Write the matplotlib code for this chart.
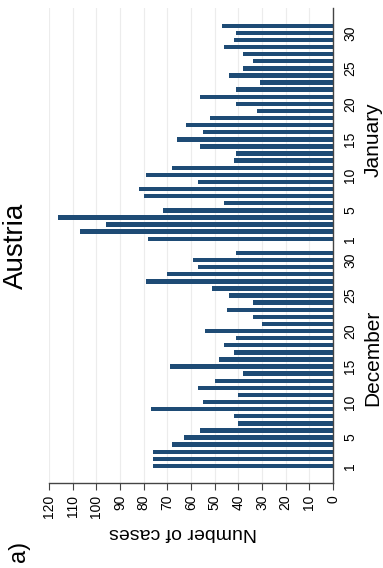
import numpy as np
import matplotlib
matplotlib.use("Agg")
import matplotlib.pyplot as plt

plt.rcParams['font.family'] = ['Liberation Sans', 'DejaVu Sans']

# daily case counts
dec_cases = [76, 76, 76, 68, 63, 56, 40, 42, 77, 55,
             40, 57, 50, 38, 69, 48, 42, 46, 41, 54,
             30, 34, 45, 34, 44, 51, 79, 70, 57, 59, 41]
jan_cases = [78, 107, 96, 116, 72, 46, 80, 82, 57, 79,
             68, 42, 41, 56, 66, 55, 62, 52, 32, 41,
             56, 41, 31, 44, 38, 34, 38, 46, 42, 41, 47]
day_ticks = [1, 5, 10, 15, 20, 25, 30]
case_ticks = list(range(0, 121, 10))

bar_color = '#1e4b75'

dec_pos = np.arange(len(dec_cases))
jan_pos = np.arange(len(jan_cases)) + len(dec_cases) + 1

fig = plt.figure(figsize=(3.83, 5.68), dpi=100)
ax = fig.add_axes([0.128, 0.1496, 0.7415, 0.8364])

ax.barh(dec_pos, dec_cases, height=0.62, color=bar_color)
ax.barh(jan_pos, jan_cases, height=0.62, color=bar_color)

ax.set_xlim(120, 0)
ax.set_ylim(-2.4, 64.5)

ax.set_xticks(case_ticks)
ax.set_xticklabels([str(t) for t in case_ticks])
ax.tick_params(axis='x', length=5, pad=3.5, labelsize=10, labelrotation=90,
               color='#444444')

ax.yaxis.tick_right()
yt = [dec_pos[d - 1] for d in day_ticks] + [jan_pos[d - 1] for d in day_ticks]
ax.set_yticks(yt)
ax.set_yticklabels([str(d) for d in day_ticks] * 2)
ax.tick_params(axis='y', length=0, pad=7.5, labelsize=10, labelrotation=90)
for lab in ax.get_yticklabels():
    lab.set_va('center')

for s in ['top', 'left']:
    ax.spines[s].set_visible(False)
for s in ['right', 'bottom']:
    ax.spines[s].set_color('#444444')
    ax.spines[s].set_linewidth(1)

ax.grid(axis='x', color='#ececec', lw=0.8)
ax.set_axisbelow(True)

fig.text(183 / 383, 1 - 532 / 568, 'Number of cases', rotation=180,
         ha='center', va='center', fontsize=14)
fig.text(16 / 383, 1 - 246 / 568, 'Austria', rotation=90,
         ha='center', va='center', fontsize=20)
fig.text(373 / 383, 1 - 358 / 568, 'December', rotation=90,
         ha='center', va='center', fontsize=15)
fig.text(373 / 383, 1 - 140 / 568, 'January', rotation=90,
         ha='center', va='center', fontsize=15)
fig.text(19 / 383, 1 - 551 / 568, 'a)', rotation=90,
         ha='center', va='center', fontsize=17)

fig.savefig('out.png', dpi=100)
